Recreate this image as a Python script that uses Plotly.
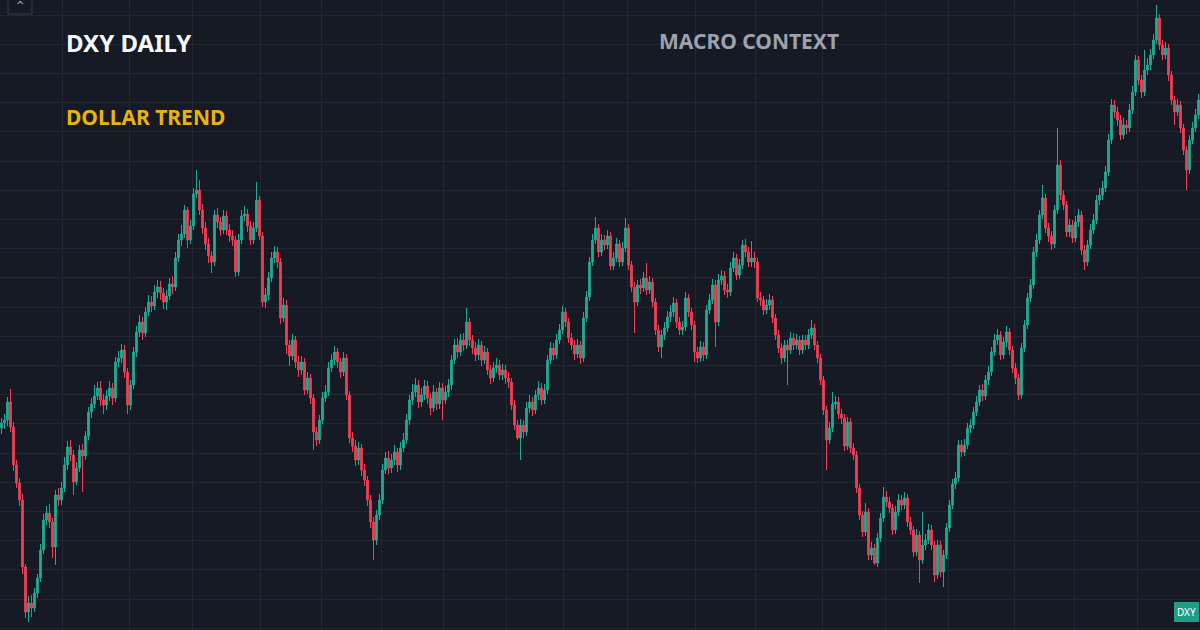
import plotly.graph_objects as go

# ---- daily candles (price units), one line = 10 sessions ----
open_ = [
    70.2, 70.7, 71.0, 72.8, 70.3, 66.5, 64.7, 63.0, 56.3, 51.8,
    52.7, 52.2, 53.7, 55.2, 58.0, 61.0, 61.7, 60.8, 58.3, 63.5,
    63.0, 64.2, 66.5, 68.3, 67.5, 64.8, 66.2, 68.0, 67.4, 69.4,
    71.8, 72.6, 73.4, 74.2, 73.0, 72.5, 73.4, 74.2, 73.2, 76.8,
    77.2, 78.0, 75.8, 72.5, 74.5, 77.8, 79.8, 80.8, 79.7, 81.8,
    82.8, 82.4, 83.8, 84.3, 83.7, 82.8, 83.4, 84.6, 84.3, 87.2,
    89.0, 89.6, 92.0, 89.0, 90.4, 93.6, 94.0, 92.0, 90.2, 88.6,
    87.4, 86.8, 91.5, 90.8, 90.0, 91.4, 90.0, 89.4, 89.0, 85.8,
    89.0, 91.4, 91.6, 90.4, 89.0, 90.2, 93.0, 89.4, 82.8, 83.5,
    85.2, 87.2, 87.8, 86.8, 81.2, 82.5, 78.5, 77.4, 79.0, 76.8,
    76.0, 76.8, 74.0, 75.2, 73.2, 69.8, 69.0, 71.0, 73.2, 73.8,
    76.2, 77.0, 77.8, 76.8, 75.8, 77.2, 73.5, 69.2, 68.4, 67.0,
    68.2, 66.0, 65.0, 63.0, 60.8, 59.0, 61.5, 63.0, 66.0, 67.2,
    66.2, 67.0, 67.8, 66.5, 68.2, 69.0, 71.0, 73.0, 73.8, 74.5,
    72.8, 73.5, 74.4, 73.2, 72.2, 73.8, 72.6, 74.2, 73.0, 73.8,
    74.5, 77.0, 78.5, 77.8, 79.0, 78.5, 80.8, 79.0, 78.2, 77.5,
    78.5, 77.0, 77.8, 76.0, 75.2, 76.2, 76.5, 75.5, 76.0, 75.2,
    74.8, 72.5, 70.5, 69.2, 70.5, 69.8, 72.2, 72.8, 72.0, 73.5,
    74.2, 73.0, 74.0, 77.0, 78.2, 77.5, 79.0, 80.0, 81.8, 80.8,
    79.2, 78.5, 77.6, 78.5, 77.2, 81.2, 83.3, 86.8, 89.0, 90.2,
    87.8, 89.0, 88.5, 89.4, 86.4, 87.2, 88.6, 86.8, 88.2, 90.2,
    86.5, 84.3, 82.8, 84.5, 84.2, 85.2, 84.0, 84.8, 82.8, 80.0,
    78.3, 79.5, 80.2, 81.3, 81.8, 82.7, 80.8, 80.0, 80.3, 83.2,
    81.8, 80.5, 77.8, 77.2, 78.3, 77.5, 82.0, 83.0, 84.5, 80.8,
    85.0, 85.4, 84.0, 83.8, 86.2, 87.2, 85.5, 86.5, 88.5, 87.8,
    86.8, 87.2, 86.8, 83.2, 83.0, 82.0, 82.5, 83.0, 81.2, 79.5,
    78.2, 77.2, 78.5, 78.0, 79.2, 78.5, 79.0, 78.0, 79.0, 78.5,
    79.5, 80.2, 78.5, 77.2, 75.0, 72.0, 69.0, 70.2, 72.6, 72.8,
    71.6, 71.2, 68.4, 70.8, 68.2, 67.5, 64.2, 61.5, 59.8, 61.8,
    57.5, 58.2, 56.7, 59.2, 61.2, 63.3, 62.8, 62.2, 60.0, 61.8,
    63.0, 62.5, 63.2, 60.8, 60.0, 57.8, 59.5, 57.0, 58.5, 59.0,
    60.0, 58.5, 55.5, 58.5, 55.8, 57.5, 60.2, 62.5, 64.6, 65.2,
    68.5, 67.8, 68.5, 70.2, 70.5, 71.8, 72.8, 74.0, 73.4, 75.0,
    75.8, 77.8, 79.0, 79.5, 77.5, 78.8, 79.8, 78.0, 76.2, 75.2,
    73.5, 78.2, 80.5, 83.2, 84.5, 87.8, 89.0, 91.5, 93.2, 90.2,
    89.4, 88.6, 92.0, 96.5, 93.5, 92.5, 89.8, 90.5, 89.2, 90.8,
    91.5, 88.0, 86.8, 88.5, 90.0, 91.0, 93.0, 93.5, 94.2, 95.8,
    99.0, 102.5, 101.8, 101.0, 99.5, 100.5, 100.2, 102.0, 103.8, 107.0,
    105.0, 103.8, 106.0, 106.5, 107.5, 109.0, 111.2, 108.5, 107.5, 108.2,
    105.5, 103.0, 101.8, 102.5, 100.2, 98.0, 96.0, 99.0, 100.2, 101.5,
]

high = [
    71.2, 71.6, 73.3, 74.1, 70.8, 67.0, 65.2, 63.6, 56.6, 53.4,
    53.5, 54.2, 55.6, 58.6, 61.6, 62.4, 62.6, 61.2, 64.0, 64.2,
    64.8, 67.3, 68.9, 69.0, 68.0, 66.8, 68.5, 68.6, 69.9, 72.3,
    73.2, 74.5, 74.8, 74.9, 73.6, 74.0, 74.9, 74.7, 77.3, 77.9,
    78.6, 78.5, 76.2, 75.0, 78.3, 80.4, 81.5, 81.3, 82.3, 83.5,
    83.4, 84.5, 85.0, 84.9, 84.2, 84.0, 85.2, 85.4, 87.8, 89.6,
    90.5, 92.5, 92.3, 91.0, 94.2, 96.0, 95.0, 92.6, 90.8, 89.2,
    87.9, 92.0, 92.2, 91.3, 92.0, 91.9, 90.6, 90.0, 89.4, 89.6,
    92.0, 92.4, 92.1, 90.9, 90.8, 94.8, 93.4, 89.8, 84.2, 85.8,
    87.8, 88.4, 88.3, 87.2, 83.2, 83.0, 79.0, 79.6, 79.4, 77.4,
    77.4, 77.2, 75.8, 75.6, 73.6, 70.3, 71.5, 73.8, 74.5, 76.8,
    77.6, 78.4, 78.2, 77.2, 77.8, 77.6, 73.9, 69.8, 69.0, 68.8,
    68.6, 66.6, 65.4, 63.5, 61.3, 62.0, 63.6, 66.6, 67.8, 67.9,
    67.6, 68.5, 68.2, 68.8, 69.7, 71.6, 73.5, 74.6, 75.2, 75.0,
    74.2, 75.0, 74.9, 73.7, 74.5, 74.2, 74.8, 74.7, 74.4, 75.1,
    77.5, 79.1, 79.2, 79.6, 79.7, 82.2, 81.2, 79.5, 78.8, 79.1,
    78.9, 78.4, 78.2, 76.5, 76.8, 77.2, 77.0, 76.6, 76.5, 75.8,
    75.2, 73.0, 71.0, 71.1, 71.0, 72.8, 73.5, 73.3, 74.0, 74.9,
    74.7, 74.6, 77.5, 78.8, 78.7, 79.6, 80.6, 82.4, 82.2, 81.2,
    79.7, 79.0, 79.1, 78.9, 81.8, 83.9, 87.3, 89.6, 91.3, 90.6,
    89.6, 89.5, 90.0, 89.8, 87.8, 89.2, 89.0, 88.8, 91.2, 90.6,
    86.9, 84.8, 85.0, 85.1, 85.8, 86.7, 85.4, 85.2, 83.2, 80.5,
    80.0, 80.8, 81.9, 82.5, 83.3, 83.1, 81.3, 80.9, 83.8, 83.6,
    82.2, 80.9, 78.3, 78.9, 78.8, 82.5, 83.6, 85.1, 85.0, 85.6,
    86.0, 85.9, 84.6, 86.8, 87.8, 87.6, 87.1, 89.0, 89.1, 88.3,
    88.9, 87.8, 87.2, 83.8, 83.4, 83.1, 83.6, 83.4, 81.6, 80.0,
    78.7, 79.0, 79.0, 79.8, 79.7, 79.6, 79.4, 79.5, 79.5, 80.1,
    81.0, 80.6, 78.9, 77.6, 75.4, 72.4, 70.8, 73.8, 73.4, 73.3,
    72.1, 71.6, 71.3, 71.2, 68.7, 67.9, 64.6, 61.9, 62.7, 62.2,
    58.8, 58.6, 59.7, 61.7, 64.3, 63.9, 63.3, 62.6, 62.4, 63.6,
    63.5, 63.8, 63.6, 61.3, 60.4, 60.1, 59.9, 61.8, 59.6, 60.6,
    60.5, 58.9, 59.0, 58.9, 58.0, 60.7, 63.0, 65.1, 65.8, 69.0,
    69.0, 69.1, 70.7, 71.1, 72.3, 73.4, 74.5, 74.6, 75.5, 76.4,
    78.3, 79.6, 80.1, 79.9, 79.3, 80.4, 80.2, 78.4, 76.7, 75.6,
    78.7, 81.0, 83.7, 85.1, 88.3, 89.6, 92.0, 94.5, 93.6, 90.7,
    89.9, 92.5, 100.2, 97.0, 94.0, 92.9, 91.1, 91.0, 91.4, 92.1,
    91.9, 88.5, 89.0, 90.6, 91.6, 93.5, 94.2, 94.9, 96.4, 99.6,
    103.1, 103.0, 102.3, 101.5, 101.2, 101.0, 102.6, 104.4, 107.5, 107.4,
    105.5, 108.0, 107.2, 108.1, 109.6, 112.5, 111.6, 109.0, 108.8, 108.6,
    105.9, 103.4, 103.1, 102.9, 100.6, 98.4, 99.5, 100.8, 102.1, 103.6,
]

low = [
    69.6, 70.1, 70.4, 69.8, 65.9, 64.2, 62.4, 55.6, 51.2, 50.8,
    51.3, 51.8, 53.2, 54.8, 57.6, 60.5, 60.2, 57.2, 56.5, 62.4,
    62.5, 63.8, 66.0, 66.9, 63.5, 64.5, 65.8, 63.8, 67.0, 69.0,
    71.2, 72.2, 73.0, 72.4, 71.6, 72.0, 72.9, 72.5, 72.8, 76.3,
    76.7, 75.2, 71.6, 72.0, 74.1, 77.3, 79.3, 79.0, 79.3, 81.4,
    81.8, 82.0, 83.2, 83.0, 82.1, 82.0, 83.0, 83.6, 83.9, 86.8,
    88.4, 89.2, 88.2, 88.6, 90.0, 93.2, 91.5, 89.6, 88.0, 86.7,
    85.7, 86.4, 90.2, 89.4, 89.6, 89.5, 88.8, 88.4, 85.3, 85.4,
    88.6, 90.9, 89.8, 88.5, 88.6, 89.8, 89.0, 82.3, 82.2, 83.0,
    84.8, 86.7, 86.2, 80.6, 80.8, 77.6, 76.4, 77.0, 76.2, 75.3,
    75.5, 73.5, 73.6, 72.6, 68.0, 68.4, 68.6, 70.6, 72.8, 73.4,
    75.8, 76.5, 76.2, 75.2, 75.4, 73.0, 68.7, 67.8, 66.4, 66.5,
    65.4, 64.4, 62.4, 60.2, 57.0, 58.5, 61.0, 62.6, 65.6, 65.6,
    65.7, 66.5, 65.8, 66.0, 67.8, 68.6, 70.5, 72.5, 73.3, 72.2,
    72.3, 73.0, 72.6, 71.5, 71.8, 72.0, 72.1, 71.0, 72.6, 73.3,
    74.0, 76.6, 77.2, 77.4, 77.9, 78.1, 78.4, 77.6, 76.9, 77.0,
    76.4, 76.6, 75.5, 74.6, 74.8, 75.7, 75.0, 75.0, 74.6, 74.2,
    72.0, 70.0, 69.0, 67.0, 69.2, 69.4, 71.7, 71.4, 71.6, 73.0,
    72.5, 72.6, 73.6, 76.6, 77.0, 77.1, 78.6, 79.6, 80.3, 78.7,
    78.0, 77.0, 77.2, 76.6, 76.8, 80.8, 82.9, 86.4, 88.6, 87.3,
    87.4, 88.0, 88.1, 86.0, 86.0, 86.8, 86.3, 86.4, 87.8, 86.0,
    83.8, 79.7, 82.4, 83.6, 83.8, 83.5, 83.6, 82.3, 79.5, 77.8,
    77.2, 79.0, 79.8, 80.8, 81.3, 80.2, 79.5, 79.5, 79.9, 81.3,
    80.0, 76.8, 76.7, 76.8, 76.9, 77.1, 81.6, 82.6, 78.3, 80.4,
    84.5, 83.5, 83.2, 83.4, 85.8, 85.0, 85.1, 86.1, 87.3, 86.3,
    86.3, 86.2, 82.8, 82.4, 81.5, 81.6, 82.0, 80.7, 79.0, 77.7,
    76.6, 76.8, 74.5, 77.6, 78.0, 78.1, 77.5, 77.6, 78.0, 78.1,
    79.1, 78.0, 76.7, 74.5, 71.5, 66.0, 68.6, 69.8, 72.1, 71.1,
    70.6, 67.9, 68.0, 67.7, 67.0, 63.7, 61.0, 59.3, 59.4, 57.0,
    57.0, 56.5, 56.3, 58.8, 60.8, 62.3, 61.7, 59.5, 59.6, 61.4,
    62.0, 62.1, 60.3, 59.5, 57.3, 57.4, 54.7, 56.6, 58.0, 58.6,
    58.0, 54.8, 55.1, 55.3, 54.3, 57.1, 59.8, 62.1, 64.1, 64.8,
    67.3, 67.4, 68.1, 69.7, 70.1, 71.4, 72.4, 72.9, 73.0, 74.5,
    75.4, 77.4, 78.5, 77.0, 77.1, 78.3, 77.5, 75.7, 74.6, 73.0,
    73.1, 77.8, 80.1, 82.8, 84.1, 87.3, 88.6, 91.1, 89.7, 88.8,
    88.0, 88.2, 91.6, 93.0, 92.0, 89.3, 89.3, 88.7, 88.8, 90.3,
    87.5, 86.0, 86.4, 88.1, 89.6, 90.6, 92.5, 93.0, 93.8, 95.4,
    98.6, 101.2, 100.4, 99.0, 99.1, 99.6, 99.8, 101.6, 103.4, 104.5,
    103.2, 103.4, 105.5, 106.0, 107.1, 108.6, 108.0, 107.0, 107.1, 104.9,
    102.5, 100.5, 101.4, 99.7, 97.5, 94.0, 95.6, 98.6, 99.8, 101.1,
]

close = [
    70.7, 71.0, 72.8, 70.3, 66.5, 64.7, 63.0, 56.3, 51.8, 52.7,
    52.2, 53.7, 55.2, 58.0, 61.0, 61.7, 60.8, 58.3, 63.5, 63.0,
    64.2, 66.5, 68.3, 67.5, 64.8, 66.2, 68.0, 67.4, 69.4, 71.8,
    72.6, 73.4, 74.2, 73.0, 72.5, 73.4, 74.2, 73.2, 76.8, 77.2,
    78.0, 75.8, 72.5, 74.5, 77.8, 79.8, 80.8, 79.7, 81.8, 82.8,
    82.4, 83.8, 84.3, 83.7, 82.8, 83.4, 84.6, 84.3, 87.2, 89.0,
    89.6, 92.0, 89.0, 90.4, 93.6, 94.0, 92.0, 90.2, 88.6, 87.4,
    86.8, 91.5, 90.8, 90.0, 91.4, 90.0, 89.4, 89.0, 85.8, 89.0,
    91.4, 91.6, 90.4, 89.0, 90.2, 93.0, 89.4, 82.8, 83.5, 85.2,
    87.2, 87.8, 86.8, 81.2, 82.5, 78.5, 77.4, 79.0, 76.8, 76.0,
    76.8, 74.0, 75.2, 73.2, 69.8, 69.0, 71.0, 73.2, 73.8, 76.2,
    77.0, 77.8, 76.8, 75.8, 77.2, 73.5, 69.2, 68.4, 67.0, 68.2,
    66.0, 65.0, 63.0, 60.8, 59.0, 61.5, 63.0, 66.0, 67.2, 66.2,
    67.0, 67.8, 66.5, 68.2, 69.0, 71.0, 73.0, 73.8, 74.5, 72.8,
    73.5, 74.4, 73.2, 72.2, 73.8, 72.6, 74.2, 73.0, 73.8, 74.5,
    77.0, 78.5, 77.8, 79.0, 78.5, 80.8, 79.0, 78.2, 77.5, 78.5,
    77.0, 77.8, 76.0, 75.2, 76.2, 76.5, 75.5, 76.0, 75.2, 74.8,
    72.5, 70.5, 69.2, 70.5, 69.8, 72.2, 72.8, 72.0, 73.5, 74.2,
    73.0, 74.0, 77.0, 78.2, 77.5, 79.0, 80.0, 81.8, 80.8, 79.2,
    78.5, 77.6, 78.5, 77.2, 81.2, 83.3, 86.8, 89.0, 90.2, 87.8,
    89.0, 88.5, 89.4, 86.4, 87.2, 88.6, 86.8, 88.2, 90.2, 86.5,
    84.3, 82.8, 84.5, 84.2, 85.2, 84.0, 84.8, 82.8, 80.0, 78.3,
    79.5, 80.2, 81.3, 81.8, 82.7, 80.8, 80.0, 80.3, 83.2, 81.8,
    80.5, 77.8, 77.2, 78.3, 77.5, 82.0, 83.0, 84.5, 80.8, 85.0,
    85.4, 84.0, 83.8, 86.2, 87.2, 85.5, 86.5, 88.5, 87.8, 86.8,
    87.2, 86.8, 83.2, 83.0, 82.0, 82.5, 83.0, 81.2, 79.5, 78.2,
    77.2, 78.5, 78.0, 79.2, 78.5, 79.0, 78.0, 79.0, 78.5, 79.5,
    80.2, 78.5, 77.2, 75.0, 72.0, 69.0, 70.2, 72.6, 72.8, 71.6,
    71.2, 68.4, 70.8, 68.2, 67.5, 64.2, 61.5, 59.8, 61.8, 57.5,
    58.2, 56.7, 59.2, 61.2, 63.3, 62.8, 62.2, 60.0, 61.8, 63.0,
    62.5, 63.2, 60.8, 60.0, 57.8, 59.5, 57.0, 58.5, 59.0, 60.0,
    58.5, 55.5, 58.5, 55.8, 57.5, 60.2, 62.5, 64.6, 65.2, 68.5,
    67.8, 68.5, 70.2, 70.5, 71.8, 72.8, 74.0, 73.4, 75.0, 75.8,
    77.8, 79.0, 79.5, 77.5, 78.8, 79.8, 78.0, 76.2, 75.2, 73.5,
    78.2, 80.5, 83.2, 84.5, 87.8, 89.0, 91.5, 93.2, 90.2, 89.4,
    88.6, 92.0, 96.5, 93.5, 92.5, 89.8, 90.5, 89.2, 90.8, 91.5,
    88.0, 86.8, 88.5, 90.0, 91.0, 93.0, 93.5, 94.2, 95.8, 99.0,
    102.5, 101.8, 101.0, 99.5, 100.5, 100.2, 102.0, 103.8, 107.0, 105.0,
    103.8, 106.0, 106.5, 107.5, 109.0, 111.2, 108.5, 107.5, 108.2, 105.5,
    103.0, 101.8, 102.5, 100.2, 98.0, 96.0, 99.0, 100.2, 101.5, 103.0,
]

session = list(range(len(close)))
# session positions of the month separators (vertical grid)
month_breaks = [20.2, 42.8, 63.8, 86.2, 106.8, 126.8, 147.2, 168.2, 187.2,
                208.8, 231.2, 251.2, 273.5, 294.5, 315.5, 337.8, 357.8, 378.8]

BG = "#161a25"
GRID = "#232734"
UP = "#22ab94"
DOWN = "#f23f54"

fig = go.Figure(go.Candlestick(
    x=session, open=open_, high=high, low=low, close=close,
    increasing=dict(line=dict(color=UP, width=1), fillcolor=UP),
    decreasing=dict(line=dict(color=DOWN, width=1), fillcolor=DOWN),
    whiskerwidth=0, hoverinfo="skip", showlegend=False,
))

fig.update_layout(
    width=1200, height=630,
    margin=dict(l=0, r=0, t=0, b=0, pad=0),
    paper_bgcolor=BG, plot_bgcolor=BG,
    showlegend=False,
    boxgap=0.2,
    xaxis=dict(range=[-0.5, len(close) - 0.5], rangeslider=dict(visible=False),
               tickmode="array", tickvals=month_breaks, showticklabels=False,
               showgrid=True, gridcolor=GRID, gridwidth=1, zeroline=False,
               showline=False, ticks=""),
    yaxis=dict(range=[50, 113], tickmode="linear", tick0=111.5, dtick=2.92,
               showticklabels=False, showgrid=True, gridcolor=GRID, gridwidth=1,
               zeroline=False, showline=False, ticks=""),
    font=dict(family="Noto Sans"),
)

fig.add_annotation(xref="paper", yref="paper", x=64 / 1200, y=1 - 43 / 630,
                   xanchor="left", yanchor="middle", showarrow=False,
                   text="<b>DXY DAILY</b>",
                   font=dict(family="Noto Sans", size=24, color="#f5f6f8"))
fig.add_annotation(xref="paper", yref="paper", x=64 / 1200, y=1 - 117 / 630,
                   xanchor="left", yanchor="middle", showarrow=False,
                   text="<b>DOLLAR TREND</b>",
                   font=dict(family="Noto Sans", size=21, color="#e9b213"))
fig.add_annotation(xref="paper", yref="paper", x=657 / 1200, y=1 - 41 / 630,
                   xanchor="left", yanchor="middle", showarrow=False,
                   text="<b>MACRO CONTEXT</b>",
                   font=dict(family="Noto Sans", size=21, color="#9ea2ad"))
# instrument badge
fig.add_annotation(xref="paper", yref="paper", x=1186 / 1200, y=1 - 612 / 630,
                   xanchor="center", yanchor="middle", showarrow=False,
                   text="DXY", bgcolor="#1f9e85", bordercolor="#1f9e85",
                   borderpad=2, font=dict(family="Noto Sans", size=10, color="#ffffff"))
# collapse button in the top-left corner
fig.add_shape(type="rect", xref="paper", yref="paper",
              x0=8 / 1200, x1=32 / 1200, y0=1 - 14 / 630, y1=1.01,
              line=dict(color="#363a45", width=1), fillcolor=BG)
fig.add_annotation(xref="paper", yref="paper", x=20 / 1200, y=1 - 6 / 630,
                   xanchor="center", yanchor="middle", showarrow=False,
                   text="^", font=dict(family="DejaVu Sans", size=10, color="#b2b5be"))

fig.write_html(
    "out.html",
    config={"displayModeBar": False},
    post_script=("document.body.style.margin='0';document.body.style.padding='0';"
                 "document.body.style.background='#161a25';"
                 "document.body.style.overflow='hidden';"),
)
